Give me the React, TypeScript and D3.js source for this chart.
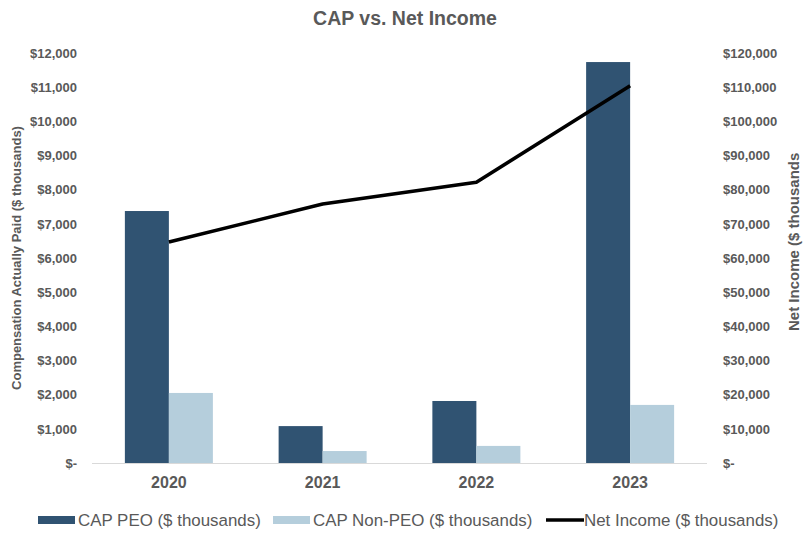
import React, { useEffect, useRef } from "react";
import * as d3 from "d3";

const years = ["2020", "2021", "2022", "2023"];
const capPeo = [7375, 1080, 1815, 11735];
const capNonPeo = [2050, 350, 500, 1700];
const netIncome = [64700, 75800, 82200, 110400];
const leftTicks = [0, 1000, 2000, 3000, 4000, 5000, 6000, 7000, 8000, 9000, 10000, 11000, 12000];
const rightTicks = [0, 10000, 20000, 30000, 40000, 50000, 60000, 70000, 80000, 90000, 100000, 110000, 120000];
const seriesNames = ["CAP PEO ($ thousands)", "CAP Non-PEO ($ thousands)", "Net Income ($ thousands)"];
const colors = ["#305372", "#B5CEDC", "#000000"];

const W = 812;
const H = 542;
const FONT = "'Liberation Sans', Arial, sans-serif";
const GRAY = "#595959";

export default function App() {
  const ref = useRef<SVGSVGElement>(null);

  useEffect(() => {
    const svg = d3.select(ref.current);
    svg.selectAll("*").remove();

    const left = 92, right = 707, top = 53, bottom = 463;

    const x = d3.scaleBand<string>().domain(years).range([left, right]).paddingInner(0).paddingOuter(0);
    const xSub = d3
      .scaleBand<string>()
      .domain(["peo", "non"])
      .range([0, x.bandwidth()])
      .paddingInner(0)
      .paddingOuter(0.747);
    const yL = d3.scaleLinear().domain([0, 12000]).range([bottom, top]);
    const yR = d3.scaleLinear().domain([0, 120000]).range([bottom, top]);

    // title
    svg
      .append("text")
      .attr("x", 405)
      .attr("y", 25)
      .attr("text-anchor", "middle")
      .attr("font-family", FONT)
      .attr("font-weight", "bold")
      .attr("font-size", 19.5)
      .attr("fill", GRAY)
      .text("CAP vs. Net Income");

    const fmtL = (v: number) => (v === 0 ? "$-" : "$" + d3.format(",")(v));

    // left axis
    const gL = svg
      .append("g")
      .attr("transform", `translate(${left},0)`)
      .call(d3.axisLeft(yL).tickValues(leftTicks).tickSize(0).tickPadding(15).tickFormat((d) => fmtL(+d)));
    gL.select(".domain").remove();
    gL.selectAll("text")
      .attr("font-family", FONT)
      .attr("font-weight", "bold")
      .attr("font-size", 13)
      .attr("fill", GRAY);

    // right axis
    const gR = svg
      .append("g")
      .attr("transform", `translate(${right},0)`)
      .call(d3.axisRight(yR).tickValues(rightTicks).tickSize(0).tickPadding(16).tickFormat((d) => fmtL(+d)));
    gR.select(".domain").remove();
    gR.selectAll("text")
      .attr("font-family", FONT)
      .attr("font-weight", "bold")
      .attr("font-size", 13)
      .attr("fill", GRAY);

    // axis titles
    svg
      .append("text")
      .attr("transform", `translate(21,258) rotate(-90)`)
      .attr("text-anchor", "middle")
      .attr("font-family", FONT)
      .attr("font-weight", "bold")
      .attr("font-size", 13)
      .attr("fill", GRAY)
      .text("Compensation Actually Paid ($ thousands)");

    svg
      .append("text")
      .attr("transform", `translate(799,331) rotate(-90)`)
      .attr("text-anchor", "start")
      .attr("font-family", FONT)
      .attr("font-weight", "bold")
      .attr("font-size", 15)
      .attr("fill", GRAY)
      .text("Net Income ($ thousands");

    // bars
    const bars = svg.append("g");
    bars
      .selectAll("rect.peo")
      .data(years)
      .join("rect")
      .attr("class", "peo")
      .attr("x", (d) => (x(d) as number) + (xSub("peo") as number))
      .attr("width", xSub.bandwidth())
      .attr("y", (_, i) => yL(capPeo[i]))
      .attr("height", (_, i) => yL(0) - yL(capPeo[i]))
      .attr("fill", colors[0]);
    bars
      .selectAll("rect.non")
      .data(years)
      .join("rect")
      .attr("class", "non")
      .attr("x", (d) => (x(d) as number) + (xSub("non") as number))
      .attr("width", xSub.bandwidth())
      .attr("y", (_, i) => yL(capNonPeo[i]))
      .attr("height", (_, i) => yL(0) - yL(capNonPeo[i]))
      .attr("fill", colors[1]);

    // baseline
    svg
      .append("line")
      .attr("x1", left)
      .attr("x2", right)
      .attr("y1", bottom + 0.5)
      .attr("y2", bottom + 0.5)
      .attr("stroke", "#D9D9D9")
      .attr("stroke-width", 1);

    // x labels
    const gX = svg
      .append("g")
      .attr("transform", `translate(0,${bottom})`)
      .call(d3.axisBottom(x).tickSize(0).tickPadding(14));
    gX.select(".domain").remove();
    gX.selectAll("text")
      .attr("font-family", FONT)
      .attr("font-weight", "bold")
      .attr("font-size", 16)
      .attr("fill", GRAY);

    // line
    const line = d3
      .line<number>()
      .x((_, i) => (x(years[i]) as number) + x.bandwidth() / 2)
      .y((d) => yR(d));
    svg
      .append("path")
      .attr("d", line(netIncome) as string)
      .attr("fill", "none")
      .attr("stroke", colors[2])
      .attr("stroke-width", 3.5)
      .attr("stroke-linejoin", "round");

    // legend
    const legendItems = [
      { sx: 38, tx: 78 },
      { sx: 273, tx: 313 },
      { sx: 546, tx: 584 },
    ];
    const lg = svg.append("g");
    seriesNames.forEach((name, i) => {
      const it = legendItems[i];
      if (i < 2) {
        lg.append("rect")
          .attr("x", it.sx)
          .attr("y", 516)
          .attr("width", 37)
          .attr("height", 8)
          .attr("fill", colors[i]);
      } else {
        lg.append("line")
          .attr("x1", it.sx)
          .attr("x2", it.sx + 38)
          .attr("y1", 520)
          .attr("y2", 520)
          .attr("stroke", colors[i])
          .attr("stroke-width", 3.5);
      }
      lg.append("text")
        .attr("x", it.tx)
        .attr("y", 526)
        .attr("font-family", FONT)
        .attr("font-size", 16.9)
        .attr("fill", GRAY)
        .text(name);
    });
  }, []);

  return (
    <svg
      ref={ref}
      width={W}
      height={H}
      style={{ position: "absolute", left: 0, top: 0, background: "#fff" }}
    />
  );
}
